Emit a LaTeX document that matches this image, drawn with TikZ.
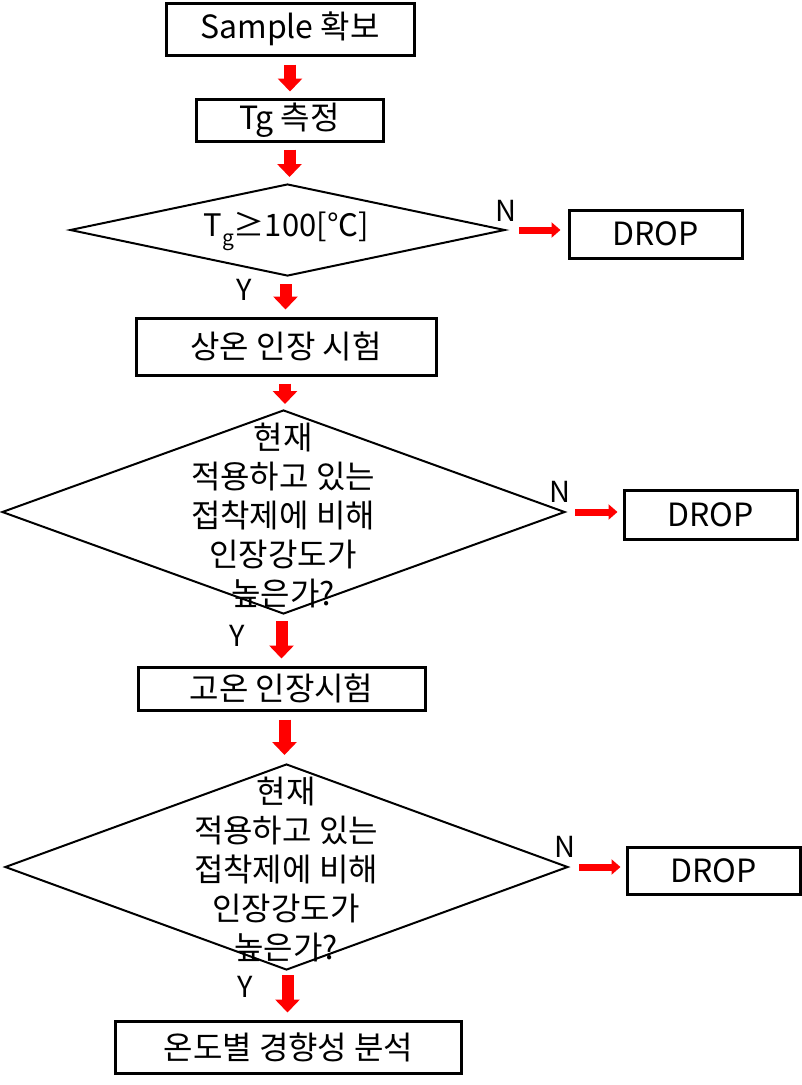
\documentclass[tikz,border=0pt]{standalone}
\usepackage{fontspec}
\setmainfont{Noto Sans CJK KR}
\usetikzlibrary{shapes.geometric,arrows.meta}

\begin{document}
\begin{tikzpicture}[x=1pt,y=-1pt,
  box/.style={draw, line width=3pt, inner sep=0pt, font=\fontsize{32}{36}\selectfont},
  ask/.style={draw, diamond, line width=2pt, inner sep=0pt},
  asktext/.style={align=center, inner sep=0pt, font=\fontsize{32}{39}\selectfont},
  yn/.style={inner sep=0pt, font=\fontsize{29}{30}\selectfont},
  flowv/.style={draw=red, line width=12pt, -{Triangle[width=24pt,length=13pt]}},
  flowh/.style={draw=red, line width=7pt, -{Triangle[width=15pt,length=9pt]}}]
\useasboundingbox (0,0) rectangle (802,1085);

% main column
\node[box, minimum width=248pt, minimum height=52pt] (s1) at (290,29) {Sample 확보};
\node[box, minimum width=187pt, minimum height=42pt] (s2) at (289.5,120) {Tg 측정};
\node[ask, minimum width=435pt, minimum height=92pt] (q1) at (287.5,230) {};
\node[inner sep=0pt, font=\fontsize{31}{35}\selectfont] (q1t) at (286,231) {T\raisebox{-0.3em}{\fontsize{21}{21}\selectfont g}≥100[℃]};
\node[box, minimum width=300pt, minimum height=57pt] (s3) at (286,346.5) {상온 인장 시험};
\node[ask, minimum width=563pt, minimum height=204pt] (q2) at (283.5,512) {};
\node[asktext] (q2t) at (283,515) {현재\\적용하고 있는\\접착제에 비해\\인장강도가\\높은가?};
\node[box, minimum width=287pt, minimum height=43pt] (s4) at (281.5,688.5) {고온 인장시험};
\node[ask, minimum width=563pt, minimum height=206pt] (q3) at (286.5,867) {};
\node[asktext] (q3t) at (286,869) {현재\\적용하고 있는\\접착제에 비해\\인장강도가\\높은가?};
\node[box, minimum width=346pt, minimum height=52pt] (s5) at (288.5,1047) {온도별 경향성 분석};

% drop boxes
\node[box, minimum width=173pt, minimum height=48pt] (d1) at (655.5,234) {DROP};
\node[box, minimum width=173pt, minimum height=49pt] (d2) at (710.5,515) {DROP};
\node[box, minimum width=173pt, minimum height=47pt] (d3) at (713.5,870.5) {DROP};

% labels
\node[yn] (n1) at (506,211) {N};
\node[yn] (y1) at (244,290) {Y};
\node[yn] (n2) at (560,492) {N};
\node[yn] (y2) at (237,636) {Y};
\node[yn] (n3) at (565,847) {N};
\node[yn] (y3) at (245,987) {Y};

% arrows
\draw[flowv, shorten <=8pt, shorten >=6pt] (s1.south) -- (s1.south |- s2.north);
\draw[flowv, shorten <=7pt, shorten >=6pt] (s2.south) -- (s2.south |- q1.north);
\draw[flowv, shorten <=7pt, shorten >=7pt] ([xshift=-2pt]q1.south) -- ([xshift=-2pt]q1.south |- s3.north);
\draw[flowv, shorten <=7pt, shorten >=5pt] ([xshift=-1pt]s3.south) -- ([xshift=-1pt]s3.south |- q2.north);
\draw[flowv, shorten <=6pt, shorten >=7pt] ([xshift=-2pt]q2.south) -- ([xshift=-2pt]q2.south |- s4.north);
\draw[flowv, shorten <=8pt, shorten >=8pt] ([xshift=3pt]s4.south) -- ([xshift=3pt]s4.south |- q3.north);
\draw[flowv, shorten <=4pt, shorten >=7pt] ([xshift=1pt]q3.south) -- ([xshift=1pt]q3.south |- s5.north);

\draw[flowh, shorten <=13pt, shorten >=7pt] (q1.east) -- (q1.east -| d1.west);
\draw[flowh, shorten <=9pt, shorten >=5pt] (q2.east) -- (q2.east -| d2.west);
\draw[flowh, shorten <=10pt, shorten >=5pt] (q3.east) -- (q3.east -| d3.west);
\end{tikzpicture}
\end{document}
